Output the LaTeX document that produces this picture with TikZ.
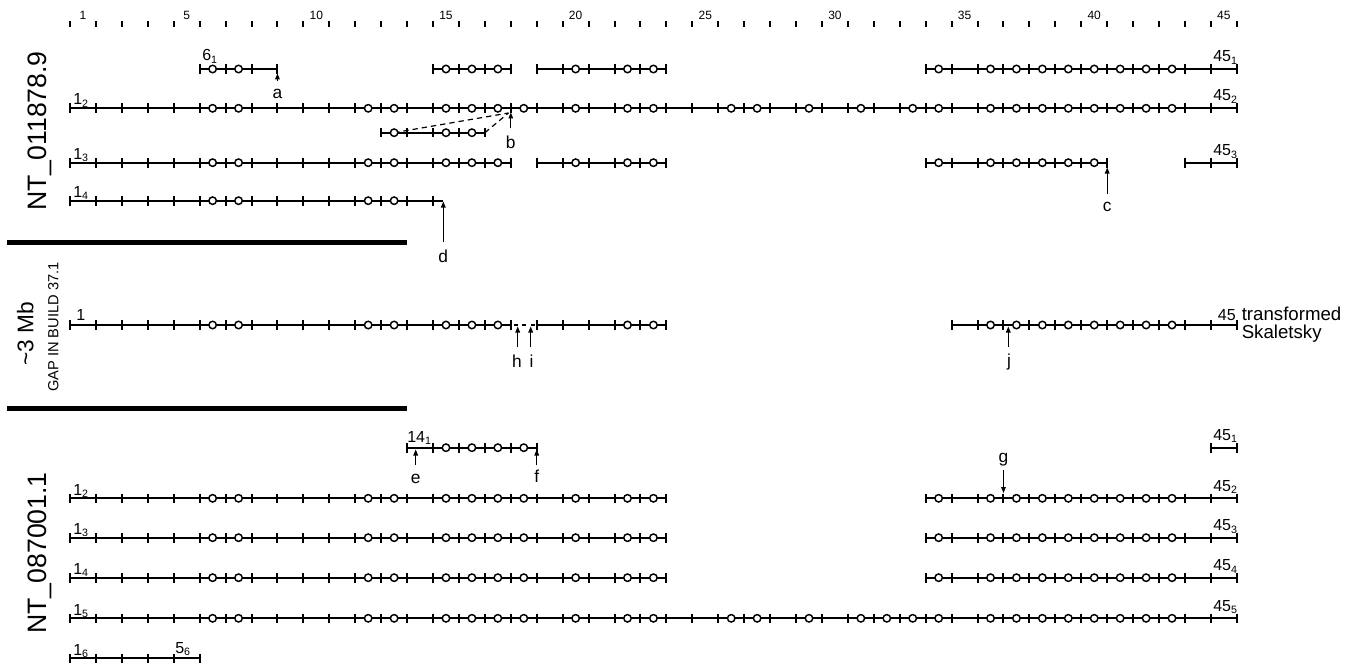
\documentclass[tikz,border=0pt]{standalone}
\usepackage{fontspec}
\setmainfont{Liberation Sans}
\usetikzlibrary{arrows.meta}
\newcommand{\bx}[1]{70+(#1)*25.93}
\tikzset{
 trk/.style={line width=1.7pt},
 tk/.style={line width=1.5pt},
 ocirc/.style={draw, line width=1.1pt, fill=white},
 rtk/.style={line width=1.5pt},
 rlab/.style={font=\fontsize{9}{10}\selectfont, inner sep=0pt, anchor=base},
 lab/.style={font=\fontsize{12}{13}\selectfont, inner sep=0pt},
 letr/.style={font=\fontsize{13}{14}\selectfont, inner sep=0pt, anchor=base},
 arr/.style={line width=0.8pt, -{Triangle[length=4.5pt,width=3.5pt]}},
 thickbar/.style={line width=3.4pt},
 dsh/.style={line width=0.9pt, dash pattern=on 4pt off 3pt},
 side/.style={rotate=90, anchor=base, inner sep=0pt},
}
\newcommand{\seg}[4]{%
 \draw[trk] ({\bx{#2}},#1) -- ({\bx{#3}},#1);
 \foreach \b in {#2,...,#3} \draw[tk] ({\bx{\b}},#1-4.8) -- ({\bx{\b}},#1+4.8);
 \foreach \e in {#4} \draw[ocirc] ({\bx{\e-0.5}},#1) circle[radius=2.8pt];
}
\newcommand{\segn}[3]{%
 \draw[trk] ({\bx{#2}},#1) -- ({\bx{#3}},#1);
 \foreach \b in {#2,...,#3} \draw[tk] ({\bx{\b}},#1-4.8) -- ({\bx{\b}},#1+4.8);
}
\begin{document}
\begin{tikzpicture}[x=0.75pt,y=-0.75pt]
\useasboundingbox (0,0) rectangle (1365,667);
% ruler
\foreach \b in {0,...,45} \draw[rtk] ({\bx{\b}},21) -- ({\bx{\b}},27);
\foreach \n in {1,5,10,15,20,25,30,35,40,45} \node[rlab] (r\n) at ({\bx{\n-0.5}},20) {\n};
% side labels
\node[side, font=\fontsize{20}{20}\selectfont] (nta) at (46.7,131) {NT\_011878.9};
\node[side, font=\fontsize{20}{20}\selectfont] (ntb) at (46.7,553) {NT\_087001.1};
\node[side, font=\fontsize{17}{17}\selectfont] (mb) at (33.3,333.5) {\textasciitilde 3 Mb};
\node[side, font=\fontsize{11}{11}\selectfont] (gap) at (58.3,327) {GAP IN BUILD 37.1};
% thick bars
\draw[thickbar] (7,242.3) -- (407.3,242.3);
\draw[thickbar] (7,408.3) -- (407.3,408.3);
% ===== NT_011878.9 =====
% row 1
\seg{69}{5}{8}{6,7}
\seg{69}{14}{17}{15,16,17}
\seg{69}{18}{23}{20,22,23}
\seg{69}{33}{45}{34,36,37,38,39,40,41,42,43}
\node[lab, anchor=base west] (l61) at (202,61) {6\textsubscript{1}};
\node[lab, anchor=base east] (l451) at (1238,62) {45\textsubscript{1}};
% row 2
\seg{108.3}{0}{45}{6,7,12,13,15,16,17,18,20,22,23,26,27,29,31,33,34,36,37,38,39,40,41,42,43}
\node[lab, anchor=base west] (l12) at (73,105) {1\textsubscript{2}};
\node[lab, anchor=base east] (l452) at (1238,101) {45\textsubscript{2}};
% inset row with dashed links
\coordinate (bP) at (508.5,113);
\draw[dsh] ({\bx{12.5}},132.7) -- (bP);
\draw[dsh] ({\bx{16}},132.7) -- (bP);
\seg{132.7}{12}{16}{13,15,16}
% row 3
\seg{162.7}{0}{17}{6,7,12,13,15,16,17}
\seg{162.7}{18}{23}{20,22,23}
\seg{162.7}{33}{40}{34,36,37,38,39,40}
\segn{162.7}{43}{45}
\node[lab, anchor=base west] (l13) at (73,159.5) {1\textsubscript{3}};
\node[lab, anchor=base east] (l453) at (1238,155.7) {45\textsubscript{3}};
% row 4
\draw[trk] ({\bx{14}},200.7) -- (443.3,200.7);
\seg{200.7}{0}{14}{6,7,12,13}
\node[lab, anchor=base west] (l14) at (73,197.5) {1\textsubscript{4}};
% arrows a-d
\coordinate (aT) at ({\bx{8}},81.5); \coordinate (aH) at ({\bx{8}},73.5);
\draw[arr] (aT) -- (aH); \node[letr] (la) at ({\bx{8}},98.5) {a};
\coordinate (bT) at ({\bx{17}},128.5); \coordinate (bH) at ({\bx{17}},112.5);
\draw[arr] (bT) -- (bH); \node[letr] (lb) at ({\bx{17}},148) {b};
\coordinate (cT) at ({\bx{40}},194); \coordinate (cH) at ({\bx{40}},167.5);
\draw[arr] (cT) -- (cH); \node[letr] (lc) at ({\bx{40}},211.7) {c};
\coordinate (dT) at (443.3,242); \coordinate (dH) at (443.3,201.5);
\draw[arr] (dT) -- (dH); \node[letr] (ld) at (443.3,262) {d};
% ===== middle (transformed Skaletsky) =====
\seg{325}{0}{17}{6,7,12,13,15,16,17}
\draw[line width=1pt, dash pattern=on 3pt off 3.5pt] ({\bx{17}+3},325) -- ({\bx{18}},325);
\seg{325}{18}{23}{22,23}
\seg{325}{34}{45}{36,37,38,39,40,41,42,43}
\node[lab, anchor=base west] (m1) at (76,320) {1};
\node[lab, anchor=base east] (m45) at (1236,320.5) {45};
\node[inner sep=0pt, anchor=base west, font=\fontsize{14}{14}\selectfont] (tr) at (1241.5,320) {transformed};
\node[inner sep=0pt, anchor=base west, font=\fontsize{14}{14}\selectfont] (sk) at (1241.5,338) {Skaletsky};
\coordinate (hT) at (517.7,347); \coordinate (hH) at (517.7,326.5);
\draw[arr] (hT) -- (hH); \node[letr] (lh) at (517,367) {h};
\coordinate (iT) at (530.7,347); \coordinate (iH) at (530.7,326.5);
\draw[arr] (iT) -- (iH); \node[letr] (li) at (531.5,367) {i};
\coordinate (jT) at (1008.3,347); \coordinate (jH) at (1008.3,326.5);
\draw[arr] (jT) -- (jH); \node[letr] (lj) at (1009,366) {j};
% ===== NT_087001.1 =====
\seg{447.7}{13}{18}{15,16,17,18}
\segn{447.7}{44}{45}
\node[lab, anchor=base west] (l141) at (407,442.5) {14\textsubscript{1}};
\node[lab, anchor=base east] (b451) at (1238,440.5) {45\textsubscript{1}};
\foreach \yy/\k in {498.3/2,537.7/3,577.7/4}{
 \seg{\yy}{0}{23}{6,7,12,13,15,16,17,18,20,22,23}
 \seg{\yy}{33}{45}{34,36,37,38,39,40,41,42,43}
 \node[lab, anchor=base west] (bl\k) at (73,\yy-3.3) {1\textsubscript{\k}};
 \node[lab, anchor=base east] (br\k) at (1238,\yy-7) {45\textsubscript{\k}};
}
\seg{618.3}{0}{45}{6,7,12,13,15,16,17,18,20,22,23,26,27,29,31,32,33,34,36,37,38,39,40,41,42,43}
\node[lab, anchor=base west] (bl5) at (73,615) {1\textsubscript{5}};
\node[lab, anchor=base east] (br5) at (1238,611.3) {45\textsubscript{5}};
\segn{658.3}{0}{5}
\node[lab, anchor=base west] (bl6) at (73,655) {1\textsubscript{6}};
\node[lab, anchor=base west] (b56) at (175,653.3) {5\textsubscript{6}};
% arrows e-g
\coordinate (eT) at (415.7,465); \coordinate (eH) at (415.7,449.5);
\draw[arr] (eT) -- (eH); \node[letr] (le) at (415.7,483) {e};
\coordinate (fT) at ({\bx{18}},465); \coordinate (fH) at ({\bx{18}},449.5);
\draw[arr] (fT) -- (fH); \node[letr] (lf) at ({\bx{18}},482.7) {f};
\coordinate (gT) at ({\bx{36}},470); \coordinate (gH) at ({\bx{36}},493);
\draw[arr] (gT) -- (gH); \node[letr] (lg) at ({\bx{36}},462.5) {g};
\end{tikzpicture}
\end{document}
